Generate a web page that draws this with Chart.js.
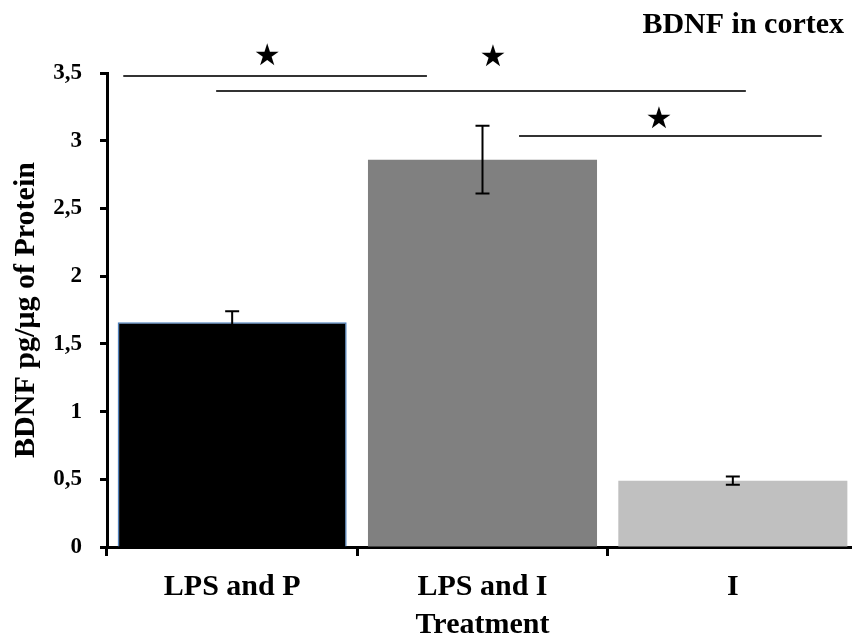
<!DOCTYPE html>
<html>
<head>
<meta charset="utf-8">
<script src="https://cdn.jsdelivr.net/npm/chart.js@4"></script>
<style>
  html, body { margin: 0; padding: 0; background: #fff; }
  #wrap { width: 852px; height: 644px; overflow: hidden; }
</style>
</head>
<body>
<div id="wrap"><canvas id="myChart" width="858" height="644"></canvas></div>
<script>
// data
var categories = ['LPS and P', 'LPS and I', 'I'];
var bdnfValues = [1.66, 2.86, 0.49];
var bdnfErrors = [0.08, 0.25, 0.03];
var barColors = ['#000000', '#808080', '#C0C0C0'];
var yTicks = [0, 0.5, 1, 1.5, 2, 2.5, 3, 3.5];

// significance brackets: [from category, to category, value]
var sigLines = [
  [-0.435, 0.778, 3.478],
  [-0.064, 2.052, 3.367],
  [1.146, 2.355, 3.035],
];
// stars: [category position, value]
var sigStars = [
  [0.140, 3.618],
  [1.042, 3.610],
  [1.705, 3.153],
];

var serif = '"Liberation Serif", "Times New Roman", serif';

var extras = {
  id: 'extras',
  afterDatasetsDraw: function (chart) {
    var ctx = chart.ctx;
    var x = chart.scales.x;
    var y = chart.scales.y;
    ctx.save();
    // error bars
    ctx.strokeStyle = '#000';
    ctx.lineWidth = 2;
    bdnfValues.forEach(function (v, i) {
      var px = x.getPixelForValue(i);
      var top = y.getPixelForValue(v + bdnfErrors[i]);
      var bot = y.getPixelForValue(v - bdnfErrors[i]);
      ctx.beginPath();
      ctx.moveTo(px, top); ctx.lineTo(px, bot);
      ctx.moveTo(px - 7, top); ctx.lineTo(px + 7, top);
      ctx.moveTo(px - 7, bot); ctx.lineTo(px + 7, bot);
      ctx.stroke();
    });
    // significance lines
    ctx.strokeStyle = '#333';
    ctx.lineWidth = 2;
    sigLines.forEach(function (l) {
      var py = y.getPixelForValue(l[2]);
      ctx.beginPath();
      ctx.moveTo(x.getPixelForValue(l[0]), py);
      ctx.lineTo(x.getPixelForValue(l[1]), py);
      ctx.stroke();
    });
    ctx.fillStyle = '#000';
    ctx.font = '30px "DejaVu Sans"';
    ctx.textAlign = 'center';
    ctx.textBaseline = 'middle';
    sigStars.forEach(function (s) {
      ctx.fillText('\u2605', x.getPixelForValue(s[0]), y.getPixelForValue(s[1]));
    });
    // title
    ctx.font = 'bold 30px ' + serif;
    ctx.textAlign = 'right';
    ctx.textBaseline = 'alphabetic';
    ctx.fillText('BDNF in cortex', 844, 33);
    ctx.restore();
  },
};

var ctx = document.getElementById('myChart').getContext('2d');
var myChart = new Chart(ctx, {
  type: 'bar',
  data: {
    labels: categories,
    datasets: [
      {
        data: bdnfValues,
        backgroundColor: barColors,
        borderColor: ['#4F81BD', 'rgba(0,0,0,0)', 'rgba(0,0,0,0)'],
        borderWidth: [1.5, 0, 0],
        categoryPercentage: 1,
        barPercentage: 0.915,
      },
    ],
  },
  options: {
    responsive: false,
    animation: false,
    layout: { padding: { top: 73, left: 0, right: 0, bottom: 0 } },
    plugins: {
      legend: { display: false },
      tooltip: { enabled: false },
      title: { display: false },
    },
    scales: {
      y: {
        min: 0,
        max: 3.5,
        afterBuildTicks: function (s) {
          s.ticks = yTicks.map(function (v) { return { value: v }; });
        },
        afterFit: function (s) { s.width = 107; },
        border: { color: '#000', width: 3 },
        grid: {
          drawOnChartArea: false,
          drawTicks: true,
          tickLength: 7,
          tickWidth: 3,
          tickColor: '#000',
        },
        ticks: {
          padding: 18,
          color: '#000',
          font: { family: serif, size: 23, weight: 'bold' },
          callback: function (v) { return String(v).replace('.', ','); },
        },
        title: {
          display: true,
          text: 'BDNF pg/\u00b5g of Protein',
          color: '#000',
          padding: { top: 8, bottom: 0 },
          font: { family: serif, size: 30, weight: 'bold' },
        },
      },
      x: {
        afterFit: function (s) { s.height = 97; },
        border: { color: '#000', width: 3 },
        grid: {
          offset: true,
          drawOnChartArea: false,
          drawTicks: true,
          tickLength: 9,
          tickWidth: 3,
          tickColor: '#000',
        },
        ticks: {
          padding: 13,
          color: '#000',
          font: { family: serif, size: 30, weight: 'bold' },
        },
        title: {
          display: true,
          text: 'Treatment',
          color: '#000',
          padding: { top: 0, bottom: 1 },
          font: { family: serif, size: 30, weight: 'bold' },
        },
      },
    },
  },
  plugins: [extras],
});
</script>
</body>
</html>
